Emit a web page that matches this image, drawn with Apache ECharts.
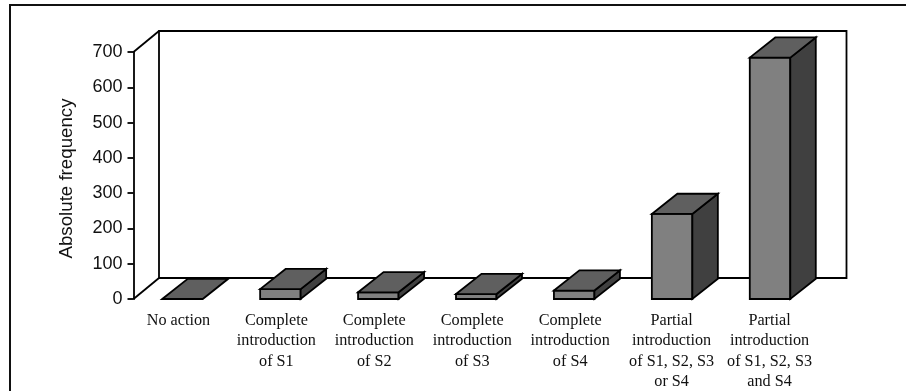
<!DOCTYPE html>
<html>
<head>
<meta charset="utf-8">
<style>html,body{margin:0;padding:0;background:#fff}#chart{width:906px;height:391px}</style>
<script src="https://cdn.jsdelivr.net/npm/echarts@6/dist/echarts.min.js"></script>
</head>
<body>
<div id="chart"></div>
<script>
const categories = [
  'No action',
  'Complete\nintroduction\nof S1',
  'Complete\nintroduction\nof S2',
  'Complete\nintroduction\nof S3',
  'Complete\nintroduction\nof S4',
  'Partial\nintroduction\nof S1, S2, S3\nor S4',
  'Partial\nintroduction\nof S1, S2, S3\nand S4'
];
const frequencies = [0, 28, 19, 14, 24, 241, 684];
const yTicks = { min: 0, max: 700, interval: 100 };

// Pseudo-3D projection of the plot box
const DEPTH_X = 25.5;
const WALL_DEPTH_Y = 21;
const BAR_DEPTH_Y = 20.2;
const BAR_WIDTH = 40.5;
const INK = '#000';
const FRONT = '#808080';
const TOP = '#5f5f5f';
const SIDE = '#404040';
const STROKE = 1.8;

function poly(points, fill, z2) {
  return {
    type: 'polygon', z2: z2,
    shape: { points: points },
    style: { fill: fill, stroke: INK, lineWidth: STROKE, lineJoin: 'miter' }
  };
}

// Left wall diagonals and the back wall behind the bars
function renderWalls(params, api) {
  const r = params.coordSys;
  const l = r.x, t = r.y, b = r.y + r.height;
  const bl = l + DEPTH_X, br = r.x + r.width + DEPTH_X + 2;
  const line = (x1, y1, x2, y2) => ({
    type: 'line',
    shape: { x1, y1, x2, y2 },
    style: { stroke: INK, lineWidth: STROKE }
  });
  return {
    type: 'group',
    children: [
      line(l, t, bl, t - WALL_DEPTH_Y),
      line(l, b, bl, b - WALL_DEPTH_Y),
      {
        type: 'rect',
        shape: { x: bl, y: t - WALL_DEPTH_Y, width: br - bl, height: r.height },
        style: { fill: 'none', stroke: INK, lineWidth: STROKE }
      }
    ]
  };
}

// One extruded bar: front face, lid and right side
function renderBar(params, api) {
  const c = api.coord([api.value(0), api.value(1)]);
  const base = api.coord([api.value(0), 0]);
  const x0 = c[0] - BAR_WIDTH / 2, x1 = c[0] + BAR_WIDTH / 2;
  const yt = c[1], yb = base[1];
  const children = [];
  if (yb - yt > 0.5) {
    children.push(poly([[x0, yt], [x1, yt], [x1, yb], [x0, yb]], FRONT, 1));
    children.push(poly([[x1, yt], [x1 + DEPTH_X, yt - BAR_DEPTH_Y], [x1 + DEPTH_X, yb - BAR_DEPTH_Y], [x1, yb]], SIDE, 1));
  }
  children.push(poly([[x0, yt], [x0 + DEPTH_X, yt - BAR_DEPTH_Y], [x1 + DEPTH_X, yt - BAR_DEPTH_Y], [x1, yt]], TOP, 2));
  return { type: 'group', children: children };
}

// The first five captions sit slightly left of their bars, the last two are centred
const categoryItems = categories.map((name, i) => ({
  value: name,
  textStyle: { padding: i < 5 ? [0, 8, 0, 0] : [0, 1, 0, 0] }
}));

const chart = echarts.init(document.getElementById('chart'), null, { renderer: 'canvas' });
chart.setOption({
  animation: false,
  backgroundColor: '#fff',
  grid: { left: 133.5, top: 52, width: 685.5, height: 247, outerBoundsMode: 'none' },
  graphic: [{
    type: 'polyline',
    shape: { points: [[906, 5], [10, 5], [10, 391]] },
    style: { fill: 'none', stroke: '#111', lineWidth: 2 }
  }],
  xAxis: {
    type: 'category',
    data: categoryItems,
    axisLine: { show: false },
    axisTick: { show: false },
    axisLabel: {
      interval: 0,
      margin: 11,
      fontFamily: '"Liberation Serif"',
      fontSize: 16.2,
      lineHeight: 20.5,
      color: '#111'
    }
  },
  yAxis: {
    type: 'value',
    min: yTicks.min,
    max: yTicks.max,
    interval: yTicks.interval,
    name: 'Absolute frequency',
    nameLocation: 'middle',
    nameGap: 57.5,
    nameTextStyle: { fontFamily: '"Liberation Sans"', fontSize: 18.7, color: '#111', padding: [0, 6, 0, 0] },
    splitLine: { show: false },
    axisLine: { show: true, lineStyle: { color: INK, width: STROKE } },
    axisTick: { show: true, length: 6, lineStyle: { color: INK, width: STROKE } },
    axisLabel: { margin: 11, fontFamily: '"Liberation Sans"', fontSize: 18, color: '#111' }
  },
  series: [
    {
      type: 'custom',
      coordinateSystem: 'cartesian2d',
      renderItem: renderWalls,
      data: [[0, 0]],
      silent: true,
      z: 1
    },
    {
      type: 'custom',
      coordinateSystem: 'cartesian2d',
      renderItem: renderBar,
      encode: { x: 0, y: 1 },
      data: frequencies.map((v, i) => [i, v]),
      z: 2
    }
  ]
});
</script>
</body>
</html>
